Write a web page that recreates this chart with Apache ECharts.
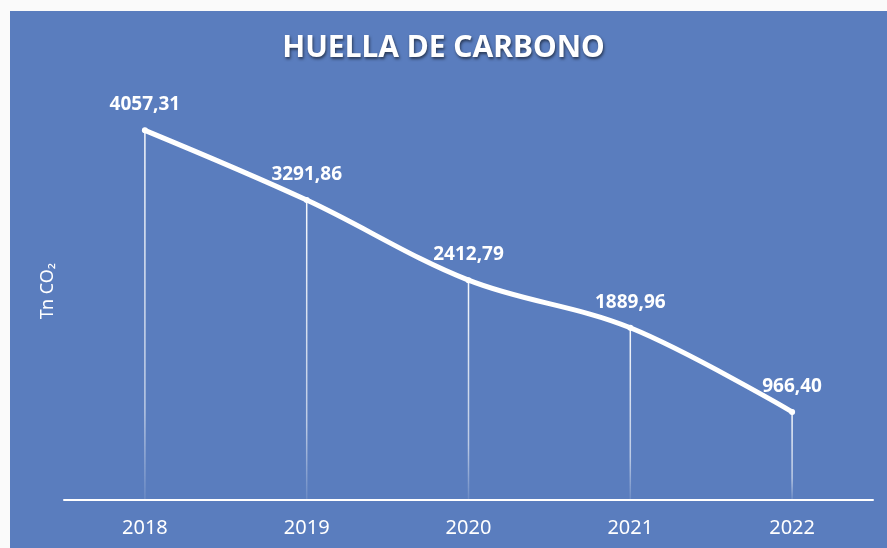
<!DOCTYPE html>
<html>
<head>
<meta charset="utf-8">
<script src="https://cdn.jsdelivr.net/npm/echarts@6/dist/echarts.min.js"></script>
<style>
html,body{margin:0;padding:0;background:#fafafa;}
#bg{position:absolute;left:10px;top:11px;width:877px;height:537px;background:#5a7dbe;}
#chart{position:absolute;left:0;top:0;width:887px;height:548px;}
</style>
</head>
<body>
<div id="bg"></div>
<div id="chart"></div>
<script>
const years = ['2018', '2019', '2020', '2021', '2022'];
const emissions = [4057.31, 3291.86, 2412.79, 1889.96, 966.40];
const titleText = 'HUELLA DE CARBONO';
const yAxisName = 'Tn CO₂';

const fmt = v => v.toFixed(2).replace('.', ',');
const chart = echarts.init(document.getElementById('chart'));
chart.setOption({
  backgroundColor: 'transparent',
  animation: false,
  title: {
    text: titleText,
    left: 'center',
    top: 28,
    textStyle: {
      color: '#ffffff',
      fontFamily: 'Noto Sans',
      fontWeight: 'bold',
      fontSize: 30,
      textShadowColor: 'rgba(0,0,0,0.55)',
      textShadowBlur: 3,
      textShadowOffsetX: 1,
      textShadowOffsetY: 2
    }
  },
  grid: { left: 64, right: 14, top: 90, bottom: 48 },
  xAxis: {
    type: 'category',
    data: years,
    boundaryGap: true,
    axisLine: { lineStyle: { color: '#ffffff', width: 2 } },
    axisTick: { show: false },
    axisLabel: { color: '#ffffff', fontSize: 20, fontFamily: 'Noto Sans', margin: 18 }
  },
  yAxis: {
    type: 'value',
    min: 0,
    max: 4500,
    name: yAxisName,
    nameLocation: 'middle',
    nameGap: 7,
    nameRotate: 90,
    nameTextStyle: { color: '#ffffff', fontSize: 18, fontFamily: 'Noto Sans', padding: [0, 0, 0, 8] },
    axisLine: { show: false },
    axisTick: { show: false },
    axisLabel: { show: false },
    splitLine: { show: false }
  },
  series: [
    {
      type: 'bar',
      data: emissions,
      barWidth: 1.5,
      silent: true,
      itemStyle: {
        color: new echarts.graphic.LinearGradient(0, 0, 0, 1, [
          { offset: 0, color: 'rgba(255,255,255,0.95)' },
          { offset: 0.75, color: 'rgba(255,255,255,0.6)' },
          { offset: 1, color: 'rgba(255,255,255,0.1)' }
        ])
      },
      z: 1
    },
    {
      type: 'line',
      data: emissions,
      smooth: 0.35,
      symbol: 'circle',
      symbolSize: 6,
      itemStyle: { color: '#ffffff' },
      lineStyle: { color: '#ffffff', width: 5, cap: 'round' },
      label: {
        show: true,
        position: 'top',
        distance: 13,
        color: '#ffffff',
        fontFamily: 'Noto Sans',
        fontWeight: 'bold',
        fontSize: 19,
        formatter: p => fmt(p.value)
      },
      z: 3
    }
  ]
});
</script>
</body>
</html>
